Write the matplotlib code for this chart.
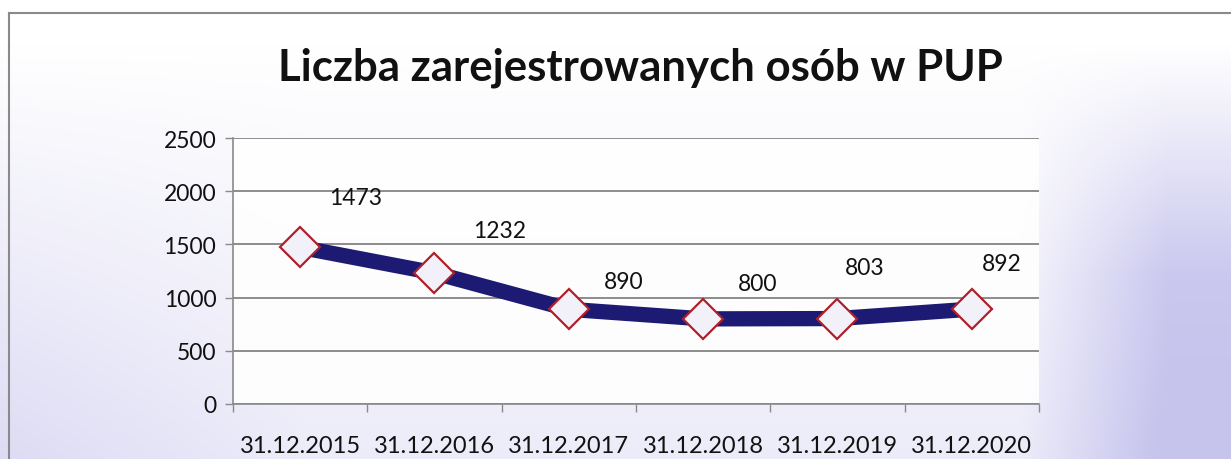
import numpy as np
import matplotlib
matplotlib.use("Agg")
import matplotlib.pyplot as plt
from matplotlib.lines import Line2D

categories = ["31.12.2015", "31.12.2016", "31.12.2017", "31.12.2018", "31.12.2019", "31.12.2020"]
values = [1473, 1232, 890, 800, 803, 892]
yticks = [0, 500, 1000, 1500, 2000, 2500]
title = "Liczba zarejestrowanych osób w PUP"
# label offsets in pixels (dx, dy) relative to each point
label_offsets = [(55, 50), (65, 42), (55, 28), (54, 35), (27, 51), (30, 46)]

W, H = 1231, 460
fig = plt.figure(figsize=(W / 100, H / 100), dpi=100)
plt.rcParams['font.family'] = ['Lato', 'DejaVu Sans']

# background gradient (row 0 = top)
bg = fig.add_axes([0, 0, 1, 1])
yy, xx = np.mgrid[0:1:200j, 0:1:400j]
t = np.clip((yy - 0.1) / 0.9, 0, 1) * 0.55
left = np.clip((0.25 - xx) / 0.25, 0, 1) * 0.5
right = np.clip((xx - 0.83) / 0.12, 0, 1)
tint = np.clip(t * (0.6 + left) + right * np.clip((yy - 0.1) / 0.5, 0, 1) * 0.75, 0, 1)
base = np.array([1.0, 1.0, 1.0])
purple = np.array([0.78, 0.77, 0.93])
img = base[None, None, :] * (1 - tint[..., None]) + purple[None, None, :] * tint[..., None]
bg.imshow(img, extent=[0, 1, 0, 1], origin='upper', aspect='auto')
bg.set_xlim(0, 1)
bg.set_ylim(0, 1)
bg.axis('off')
# frame lines
fig.add_artist(Line2D([9 / W, 9 / W], [0, 1 - 14 / H], color='#8a8a8a', lw=1.5, transform=fig.transFigure))
fig.add_artist(Line2D([9 / W, 1], [1 - 14 / H, 1 - 14 / H], color='#8a8a8a', lw=1.5, transform=fig.transFigure))

x0, x1 = 233, 1039
ytop, ybot = 139, 405
ax = fig.add_axes([x0 / W, 1 - ybot / H, (x1 - x0) / W, (ybot - ytop) / H])
ax.set_facecolor((1, 1, 1, 0.9))
x = np.arange(len(categories))
ax.set_xlim(-0.5, len(categories) - 0.5)
ax.set_ylim(0, 2500)
ax.set_yticks(yticks)
ax.set_yticklabels([str(v) for v in yticks], fontsize=16.5, color='#111111')
ax.yaxis.grid(True, color='#7a7a7a', lw=1.2)
ax.set_axisbelow(True)
for s in ['top', 'right']:
    ax.spines[s].set_visible(False)
ax.spines['left'].set_color('#8a8a8a')
ax.spines['bottom'].set_color('#8a8a8a')
ax.spines['left'].set_linewidth(1.2)
ax.spines['bottom'].set_linewidth(1.2)
ax.tick_params(axis='y', length=6, width=1, color='#8a8a8a', pad=6)
ax.set_xticks(np.arange(len(categories) + 1) - 0.5, minor=False)
ax.set_xticklabels([""] * (len(categories) + 1))
ax.tick_params(axis='x', length=6, width=1, color='#8a8a8a')
ax.set_xticks(x, minor=True)
ax.set_xticklabels(categories, minor=True, fontsize=17, color='#111111')
ax.tick_params(axis='x', which='minor', length=0, pad=22)

ax.plot(x, values, color='#1c1a72', lw=11, solid_joinstyle='round', solid_capstyle='butt', zorder=3)
ax.plot(x, values, linestyle='none', marker='D', markersize=20, markerfacecolor='#f2f1fa',
        markeredgecolor='#b0202a', markeredgewidth=1.6, zorder=4, clip_on=False)

for xi, v, (dx, dy) in zip(x, values, label_offsets):
    ax.annotate(str(v), (xi, v), xytext=(dx * 0.72, dy * 0.72), textcoords='offset points',
                ha='center', va='center', fontsize=16.5, color='#111111')

fig.text(640 / W, 1 - 68 / H, title, ha='center', va='center', fontsize=31.5, fontweight='bold', color='#111111')

fig.savefig('out.png', dpi=100)
